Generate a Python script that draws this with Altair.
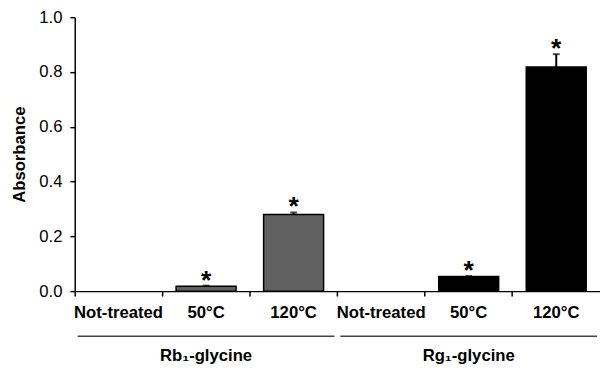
import altair as alt
import pandas as pd

# ---- data ----
groups = ["Rb₁-glycine"] * 3 + ["Rg₁-glycine"] * 3
treatments = ["Not-treated", "50°C", "120°C"] * 2
values = [0.0, 0.018, 0.280, 0.0, 0.053, 0.818]
errors = [0.0, 0.002, 0.007, 0.0, 0.002, 0.047]
stars = ["", "*", "*", "", "*", "*"]

group_names = ["Rb₁-glycine", "Rg₁-glycine"]
group_colors = ["#606060", "#000000"]
y_ticks = [0.0, 0.2, 0.4, 0.6, 0.8, 1.0]

keys = [f"{g} {t}" for g, t in zip(groups, treatments)]
df = pd.DataFrame({
    "key": keys, "group": groups, "treatment": treatments,
    "value": values, "err": errors, "star": stars,
})
df["top"] = df["value"] + df["err"]

gdf = pd.DataFrame({
    "group": group_names,
    "start": [keys[0], keys[3]],
    "mid": [keys[1], keys[4]],
    "end": [keys[2], keys[5]],
})

FONT = "Liberation Sans"
FS = 17
W, H = 535, 279

xscale = alt.Scale(domain=keys, paddingInner=0, paddingOuter=0)
x = alt.X("key:N", scale=xscale, sort=keys, title=None,
          axis=alt.Axis(labels=False, bandPosition=0, tickSize=5, tickWidth=1.5,
                        tickColor="black", domainColor="black", domainWidth=1.5))
y = alt.Y("value:Q", scale=alt.Scale(domain=[0, 1], nice=False, zero=True),
          title="Absorbance",
          axis=alt.Axis(values=y_ticks, format=".1f", grid=False, tickSize=5,
                        tickWidth=1.5, tickColor="black", domainColor="black",
                        domainWidth=1.5, labelFont=FONT, labelFontSize=FS,
                        labelColor="black", labelPadding=8, titleFont=FONT,
                        titleFontSize=FS, titleFontWeight="bold",
                        titleColor="black", titlePadding=11))

base = alt.Chart(df)

bars = base.transform_filter("datum.value > 0").mark_bar(
    width=alt.RelativeBandSize(0.685), stroke="black", strokeWidth=1.5
).encode(
    x=x, y=y,
    color=alt.Color("group:N", scale=alt.Scale(domain=group_names, range=group_colors),
                    legend=None),
)

err_rule = base.transform_filter("datum.err > 0").mark_rule(
    color="black", strokeWidth=2
).encode(x=alt.X("key:N"), y=alt.Y("value:Q"), y2="top:Q")

err_cap = base.transform_filter("datum.err > 0").mark_tick(
    color="black", size=7, thickness=2
).encode(x=alt.X("key:N"), y=alt.Y("top:Q"))

star_txt = base.transform_filter("datum.star != ''").mark_text(
    font=FONT, fontSize=27, fontWeight="bold", color="black",
    baseline="alphabetic", dy=3
).encode(x=alt.X("key:N"), y=alt.Y("top:Q"), text="star:N")

cat_txt = base.mark_text(
    font=FONT, fontSize=FS, fontWeight="bold", color="black", baseline="middle"
).encode(x=alt.X("key:N"), y=alt.value(301), text="treatment:N")

grp = alt.Chart(gdf)
grp_rule = grp.mark_rule(color="#444444", strokeWidth=1.5, xOffset=3, x2Offset=-3).encode(
    x=alt.X("start:N", bandPosition=0),
    x2=alt.X2("end:N", bandPosition=1),
    y=alt.value(325),
)
grp_txt = grp.mark_text(
    font=FONT, fontSize=FS, fontWeight="bold", color="black", baseline="middle"
).encode(x=alt.X("mid:N"), y=alt.value(345), text="group:N")

chart = alt.layer(
    bars, err_rule, err_cap, star_txt, cat_txt, grp_rule, grp_txt
).properties(
    width=W, height=H,
    autosize=alt.AutoSizeParams(type="none"),
    padding={"left": 68, "top": 6, "right": 0, "bottom": 79},
).configure_view(stroke=None)

chart.save("out.html", embed_options={"renderer": "svg", "actions": False})
